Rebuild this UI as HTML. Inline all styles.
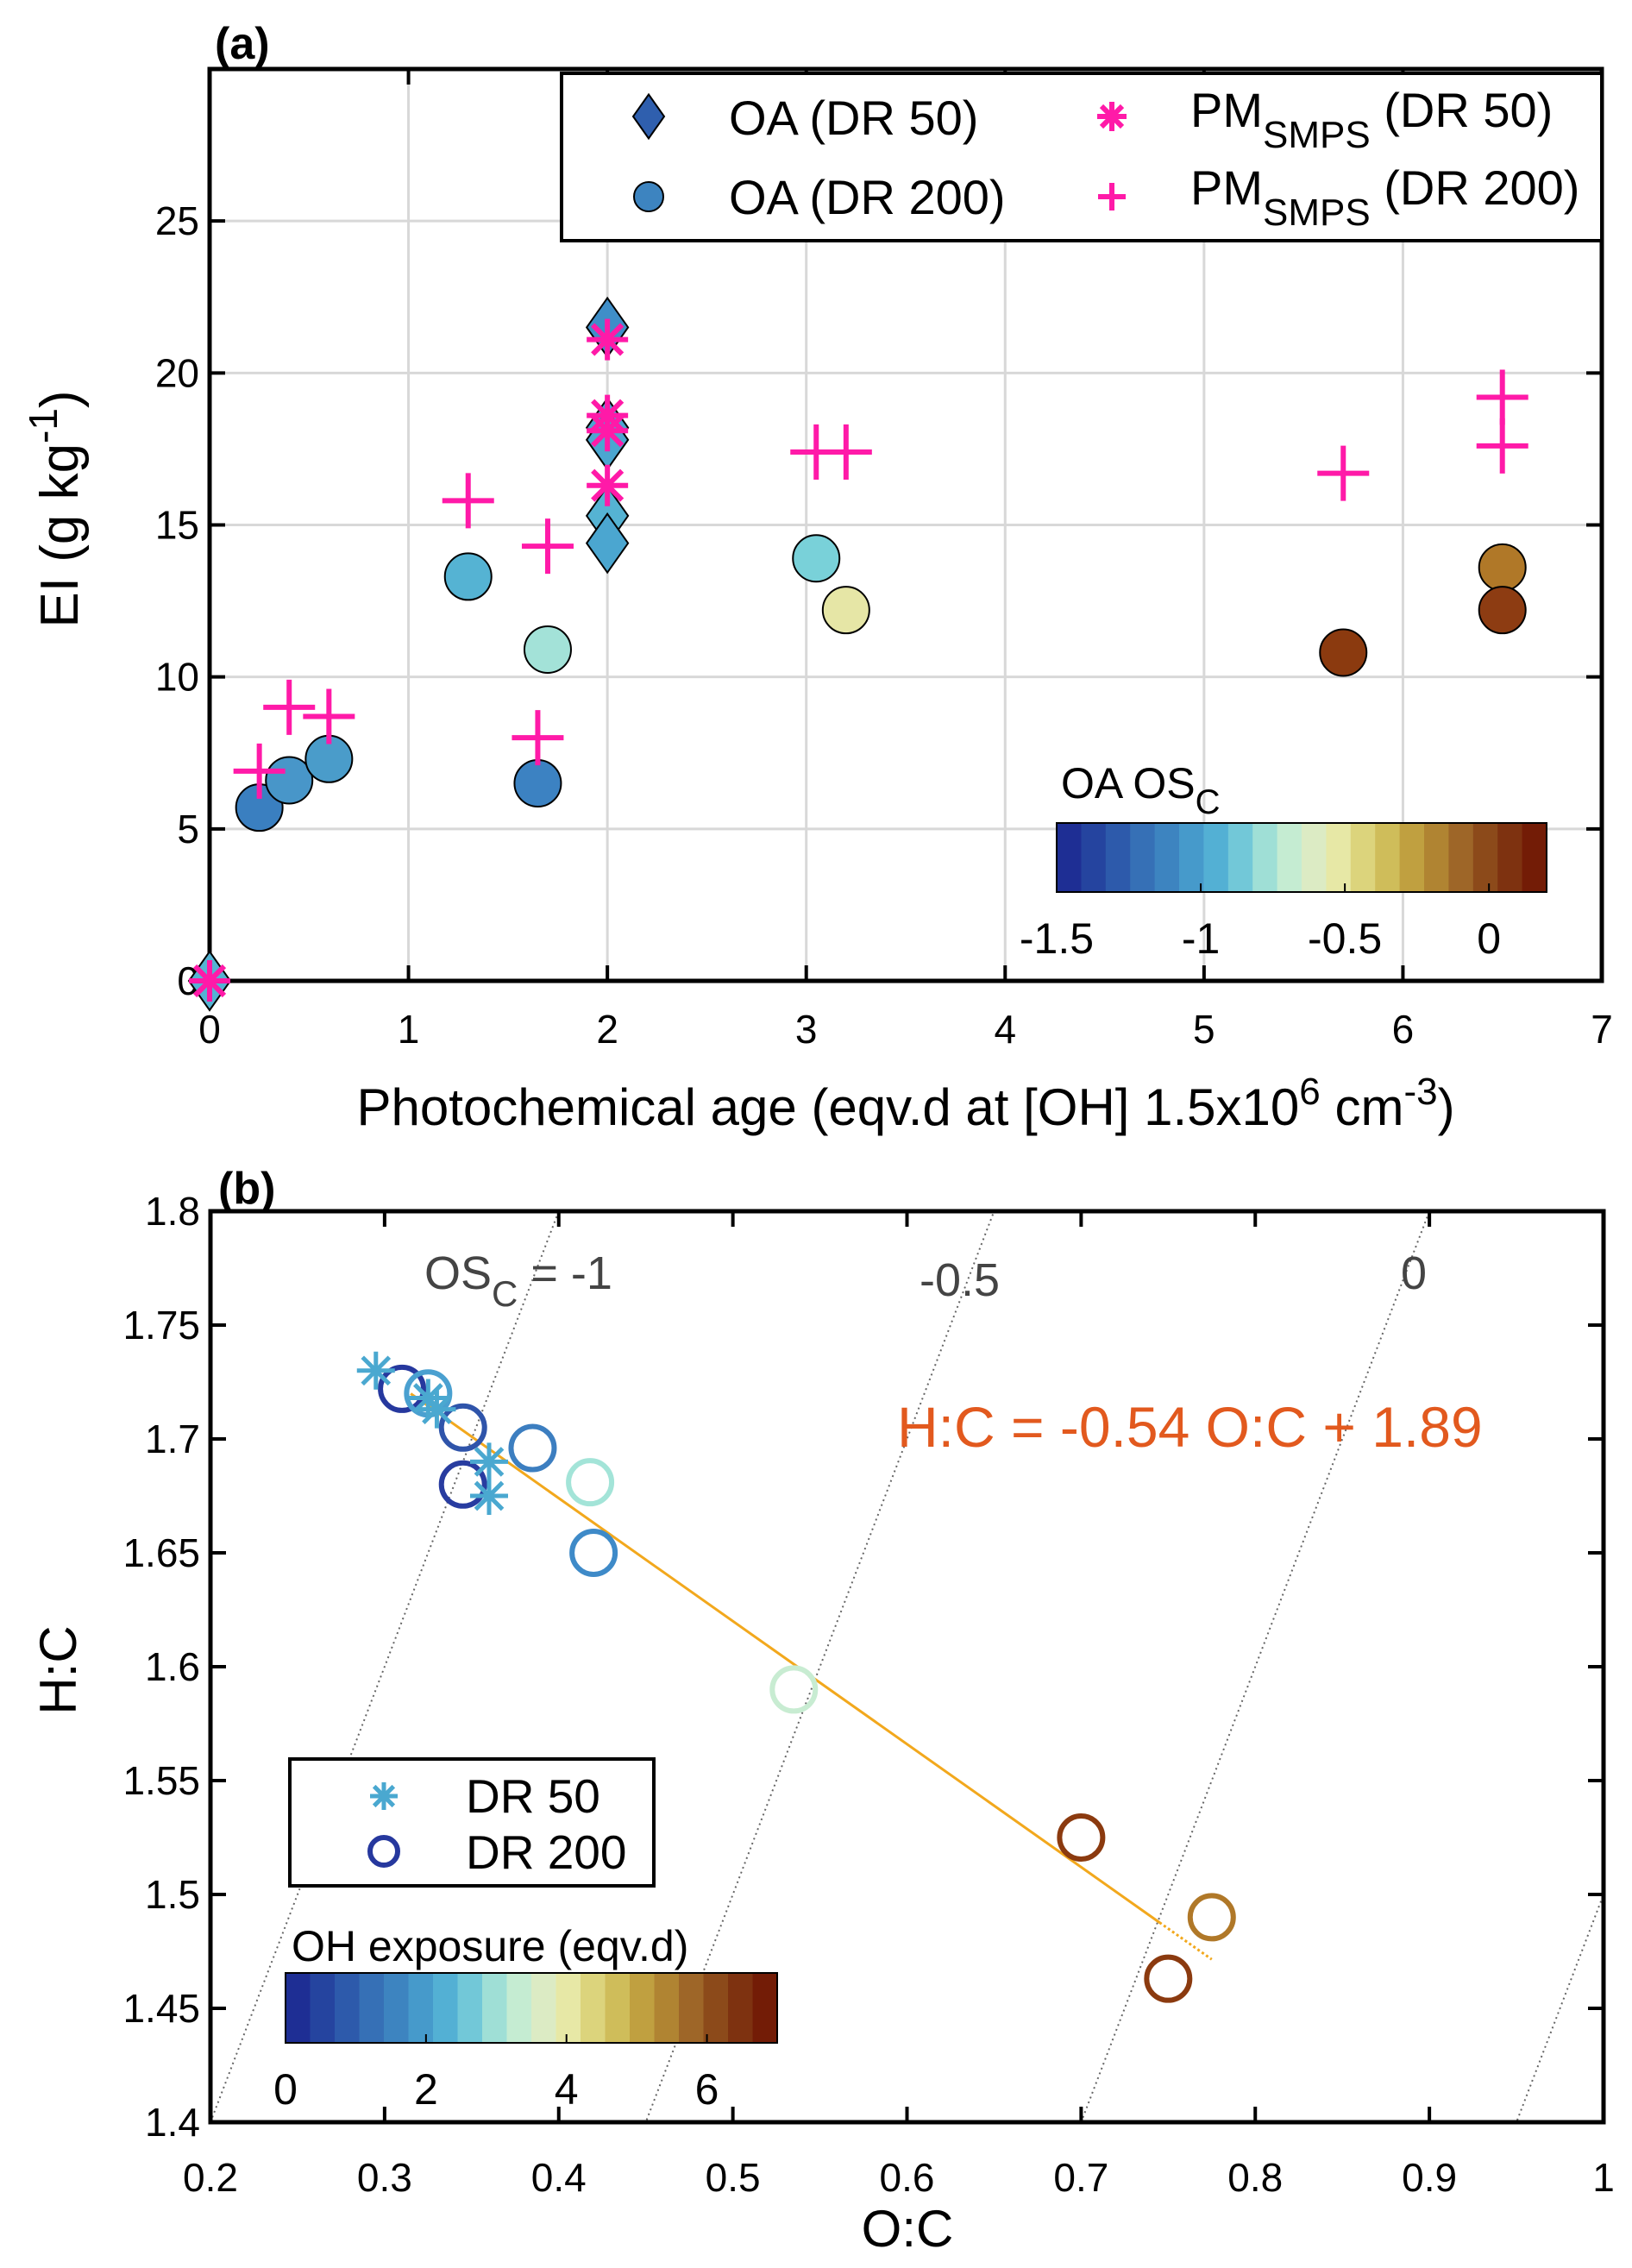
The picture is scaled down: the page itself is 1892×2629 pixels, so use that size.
<!DOCTYPE html>
<html><head><meta charset="utf-8"><style>
html,body{margin:0;padding:0;background:#fff;overflow:hidden;width:1892px;height:2629px}
svg{display:block;font-family:"Liberation Sans",Arial,sans-serif}
</style></head><body>
<svg id="fig" width="1892" height="2629" viewBox="0 0 1892 2629" xmlns="http://www.w3.org/2000/svg"></svg>
<script>
// ---- Panel (a) data ----
const oa200X = [0.25,0.4,0.6,1.3,1.65,1.7,3.05,3.2,5.7,6.5,6.5];
const oa200Y = [5.7,6.6,7.3,13.3,6.5,10.9,13.9,12.2,10.8,13.6,12.2];
const oa200C = ['#3a7fc0','#4896c9','#4a9cca','#55b3d3','#3c82c2','#a3e2d8','#79d1d9','#e6e6a6','#8b3a0f','#b07828','#8d3c12'];
const oa50X = [0,2,2,2,2,2];
const oa50Y = [0,21.5,18.2,17.8,15.3,14.4];
const oa50C = ['#55b3d3','#3f8ec8','#4ba6d0','#4ba6d0','#55b3d3','#4ba6d0'];
const pm50X = [0,2,2,2,2];
const pm50Y = [0,21.1,18.6,18.1,16.3];
const pm200X = [0.25,0.4,0.6,1.3,1.65,1.7,3.05,3.2,5.7,6.5,6.5];
const pm200Y = [6.9,9.0,8.7,15.8,8.0,14.3,17.4,17.4,16.7,19.2,17.6];
const aXTicks = [0,1,2,3,4,5,6,7];
const aYTicks = [0,5,10,15,20,25];
const osTicks = [-1.5,-1,-0.5,0];
// ---- Panel (b) data ----
const b200X = [0.31,0.325,0.345,0.385,0.345,0.418,0.42,0.535,0.70,0.775,0.75];
const b200Y = [1.722,1.720,1.705,1.696,1.680,1.681,1.650,1.590,1.525,1.490,1.463];
const b200C = ['#26389e','#4aa0d0','#2f54aa','#3c7ec0','#283ca0','#a3e4d8','#3e8ac8','#c8ecd2','#8b3a0f','#b07828','#8b3a0f'];
const b50X = [0.295,0.33,0.36,0.36,0.325];
const b50Y = [1.730,1.713,1.690,1.675,1.718];
const bXTicks = [0.2,0.3,0.4,0.5,0.6,0.7,0.8,0.9,1];
const bYTicks = [1.4,1.45,1.5,1.55,1.6,1.65,1.7,1.75,1.8];
const osLines = [-1,-0.5,0,0.5];
const fitSlope = -0.54, fitIntercept = 1.89;
const ohTicks = [0,2,4,6];
const cmap = ['#1e2e94','#25449f','#2d5aab','#3670b6','#3d84c0','#469acb','#53b0d4','#72c8d8','#9fdfd6','#c5ecd2','#dcebc4','#e7e8a6','#dcd47c','#cfbd5a','#c0a040','#b08432','#9e6628','#8c4a1a','#7e3210','#731c06'];

const svg = document.getElementById('fig');
const NS = 'http://www.w3.org/2000/svg';
function mk(tag, attrs, parent){const e=document.createElementNS(NS,tag);for(const k in attrs)e.setAttribute(k,attrs[k]);(parent||svg).appendChild(e);return e;}
function txt(s, attrs, parent){const e=mk('text',attrs,parent);e.textContent=s;return e;}

// ===== Panel A =====
const A={l:243,r:1857,t:80,b:1137,x0:0,x1:7,y0:0,y1:30};
const ax=v=>A.l+(v-A.x0)/(A.x1-A.x0)*(A.r-A.l);
const ay=v=>A.b-(v-A.y0)/(A.y1-A.y0)*(A.b-A.t);
const gA=mk('g',{});


const gridA=mk('g',{},gA);


aXTicks.forEach(v=>{if(v>0&&v<7)mk('line',{x1:ax(v),x2:ax(v),y1:A.t,y2:A.b,stroke:'#d8d8d8','stroke-width':3},gridA);});
aYTicks.forEach(v=>{if(v>0)mk('line',{x1:A.l,x2:A.r,y1:ay(v),y2:ay(v),stroke:'#d8d8d8','stroke-width':3},gridA);});
aXTicks.forEach(v=>{mk('line',{x1:ax(v),x2:ax(v),y1:A.b,y2:A.b-18,stroke:'#000','stroke-width':4},gA);mk('line',{x1:ax(v),x2:ax(v),y1:A.t,y2:A.t+18,stroke:'#000','stroke-width':4},gA);
 const t=txt(String(v),{x:ax(v),y:A.b+72,'font-size':46,'text-anchor':'middle'},gA);
 });
aYTicks.forEach(v=>{mk('line',{x1:A.l,x2:A.l+18,y1:ay(v),y2:ay(v),stroke:'#000','stroke-width':4},gA);mk('line',{x1:A.r,x2:A.r-18,y1:ay(v),y2:ay(v),stroke:'#000','stroke-width':4},gA);
 const t=txt(String(v),{x:A.l-12,y:ay(v)+16,'font-size':46,'text-anchor':'end'},gA);
 });
const frameA=mk('rect',{x:A.l,y:A.t,width:A.r-A.l,height:A.b-A.t,fill:'none',stroke:'#000','stroke-width':5},gA);


function diamond(cx,cy,fill,p,name,s){s=s||1;const e=mk('polygon',{points:`${cx},${cy-34*s} ${cx+24*s},${cy} ${cx},${cy+34*s} ${cx-24*s},${cy}`,fill:fill,stroke:'#000','stroke-width':2},p);return e;}
function star(cx,cy,r,col,w,p,name){const g=mk('g',{stroke:col,'stroke-width':w,'stroke-linecap':'butt'},p);
 for(let i=0;i<4;i++){const a=i*Math.PI/4;mk('line',{x1:cx-r*Math.cos(a),y1:cy-r*Math.sin(a),x2:cx+r*Math.cos(a),y2:cy+r*Math.sin(a)},g);}return g;}
function plus(cx,cy,p,name){const g=mk('g',{stroke:'#ff1aa8','stroke-width':6},p);
 mk('line',{x1:cx-30,x2:cx+30,y1:cy,y2:cy},g);mk('line',{x1:cx,x2:cx,y1:cy-32,y2:cy+32},g);return g;}

oa50X.forEach((x,i)=>diamond(ax(x),ay(oa50Y[i]),oa50C[i],gA,'oa-dr50-point'));
oa200X.forEach((x,i)=>{const c=mk('circle',{cx:ax(x),cy:ay(oa200Y[i]),r:27,fill:oa200C[i],stroke:'#000','stroke-width':2},gA);});
pm50X.forEach((x,i)=>star(ax(x),ay(pm50Y[i]),24,'#ff1aa8',6,gA,'pm-dr50-point'));
pm200X.forEach((x,i)=>plus(ax(x),ay(pm200Y[i]),gA,'pm-dr200-point'));

// legend a
const legA=mk('g',{},gA);
mk('rect',{x:651,y:85,width:1206,height:194,fill:'#fff',stroke:'#000','stroke-width':4},legA);
diamond(752,135,'#2f5fae',legA,'legend-oa-dr50-marker',0.75);
const lc=mk('circle',{cx:752,cy:228,r:17,fill:'#3d84c0',stroke:'#000','stroke-width':2},legA);
star(1289,135,17,'#ff1aa8',6,legA,'legend-pm-dr50-marker');
const lp=mk('g',{stroke:'#ff1aa8','stroke-width':6},legA);mk('line',{x1:1273,x2:1305,y1:228,y2:228},lp);mk('line',{x1:1289,x2:1289,y1:212,y2:244},lp);
txt('OA (DR 50)',{x:845,y:156,'font-size':56},legA);
txt('OA (DR 200)',{x:845,y:248,'font-size':56},legA);
const t1=txt('',{x:1380,y:147,'font-size':56},legA);t1.innerHTML='PM<tspan font-size="44" dy="24">SMPS</tspan><tspan dy="-24"> (DR 50)</tspan>';
const t2=txt('',{x:1380,y:237,'font-size':56},legA);t2.innerHTML='PM<tspan font-size="44" dy="24">SMPS</tspan><tspan dy="-24"> (DR 200)</tspan>';

// colorbar a
const cbA=mk('g',{},gA);
const cbAx0=1225,cbAx1=1793,cbAy=954,cbAh=80,osMin=-1.5,osMax=0.2;
cmap.forEach((c,i)=>mk('rect',{x:cbAx0+i*(cbAx1-cbAx0)/20,y:cbAy,width:(cbAx1-cbAx0)/20+0.6,height:cbAh,fill:c},cbA));
mk('rect',{x:cbAx0,y:cbAy,width:cbAx1-cbAx0,height:cbAh,fill:'none',stroke:'#000','stroke-width':2},cbA);
osTicks.forEach(v=>{const x=cbAx0+(v-osMin)/(osMax-osMin)*(cbAx1-cbAx0);mk('line',{x1:x,x2:x,y1:cbAy+cbAh,y2:cbAy+cbAh-10,stroke:'#000','stroke-width':2},cbA);txt(String(v),{x:x,y:1105,'font-size':50,'text-anchor':'middle'},cbA);});
const cbt=txt('',{x:1230,y:925,'font-size':50},cbA);cbt.innerHTML='OA OS<tspan font-size="40" dy="18">C</tspan>';

txt('(a)',{x:249,y:68,'font-size':52,'font-weight':'bold'},gA);
const yla=txt('',{x:0,y:0,'font-size':62,'text-anchor':'middle',transform:'translate(90,590) rotate(-90)'},gA);
yla.innerHTML='EI (g kg<tspan font-size="46" dy="-24">-1</tspan><tspan dy="24">)</tspan>';

const xla=txt('',{x:1050,y:1304,'font-size':60,'text-anchor':'middle'},gA);
xla.innerHTML='Photochemical age (eqv.d at [OH] 1.5x10<tspan font-size="44" dy="-24">6</tspan><tspan dy="24"> cm</tspan><tspan font-size="44" dy="-24">-3</tspan><tspan dy="24">)</tspan>';


// ===== Panel B =====
const B={l:244,r:1859,t:1404,b:2460,x0:0.2,x1:1,y0:1.4,y1:1.8};
const bx=v=>B.l+(v-B.x0)/(B.x1-B.x0)*(B.r-B.l);
const by=v=>B.b-(v-B.y0)/(B.y1-B.y0)*(B.b-B.t);
const gB=mk('g',{});
const clip=mk('clipPath',{id:'cb'},gB);mk('rect',{x:B.l,y:B.t,width:B.r-B.l,height:B.b-B.t},clip);
osLines.forEach(os=>{const l=mk('line',{x1:bx(0.2),y1:by(0.4-os),x2:bx(1),y2:by(2-os),stroke:'#666','stroke-width':2,'stroke-dasharray':'2 4','clip-path':'url(#cb)'},gB);});
txt('',{x:492,y:1494,'font-size':54,fill:'#444'},gB).innerHTML='OS<tspan font-size="42" dy="20">C</tspan><tspan dy="-20"> = -1</tspan>';
txt('-0.5',{x:1066,y:1502,'font-size':54,fill:'#444'},gB);
txt('0',{x:1624,y:1494,'font-size':54,fill:'#444'},gB);
bXTicks.forEach(v=>{mk('line',{x1:bx(v),x2:bx(v),y1:B.b,y2:B.b-18,stroke:'#000','stroke-width':4},gB);mk('line',{x1:bx(v),x2:bx(v),y1:B.t,y2:B.t+18,stroke:'#000','stroke-width':4},gB);
 const t=txt(String(v),{x:bx(v),y:2540,'font-size':46,'text-anchor':'middle'},gB);});
bYTicks.forEach(v=>{mk('line',{x1:B.l,x2:B.l+18,y1:by(v),y2:by(v),stroke:'#000','stroke-width':4},gB);mk('line',{x1:B.r,x2:B.r-18,y1:by(v),y2:by(v),stroke:'#000','stroke-width':4},gB);
 const t=txt(String(v),{x:B.l-12,y:by(v)+16,'font-size':46,'text-anchor':'end'},gB);});
const fl=mk('line',{x1:bx(0.315),y1:by(fitIntercept+fitSlope*0.315),x2:bx(0.745),y2:by(fitIntercept+fitSlope*0.745),stroke:'#f2a81d','stroke-width':3},gB);

mk('line',{x1:bx(0.745),y1:by(fitIntercept+fitSlope*0.745),x2:bx(0.775),y2:by(fitIntercept+fitSlope*0.775),stroke:'#f2a81d','stroke-width':3,'stroke-dasharray':'3 3'},gB);
b200X.forEach((x,i)=>{const c=mk('circle',{cx:bx(x),cy:by(b200Y[i]),r:25,fill:'none',stroke:b200C[i],'stroke-width':6},gB);});
b50X.forEach((x,i)=>star(bx(x),by(b50Y[i]),22,'#4aa8d0',5,gB,'dr50-point'));
const eq=txt('H:C =  -0.54 O:C + 1.89',{x:1040,y:1677,'font-size':66,fill:'#e2591e'},gB);
mk('rect',{x:B.l,y:B.t,width:B.r-B.l,height:B.b-B.t,fill:'none',stroke:'#000','stroke-width':5},gB);
// legend b
const legB=mk('g',{},gB);
mk('rect',{x:336,y:2039,width:422,height:147,fill:'#fff',stroke:'#000','stroke-width':4},legB);
star(445,2082,16,'#4aa8d0',5,legB,'legend-dr50-marker');
mk('circle',{cx:445,cy:2146,r:16,fill:'none',stroke:'#26389e','stroke-width':6},legB);
txt('DR 50',{x:540,y:2101,'font-size':55},legB);
txt('DR 200',{x:540,y:2166,'font-size':55},legB);
// colorbar b
const cbB=mk('g',{},gB);
const cbBx0=331,cbBx1=901,cbBy=2287,cbBh=81,ohMin=0,ohMax=7;
cmap.forEach((c,i)=>mk('rect',{x:cbBx0+i*(cbBx1-cbBx0)/20,y:cbBy,width:(cbBx1-cbBx0)/20+0.6,height:cbBh,fill:c},cbB));
mk('rect',{x:cbBx0,y:cbBy,width:cbBx1-cbBx0,height:cbBh,fill:'none',stroke:'#000','stroke-width':2},cbB);
ohTicks.forEach(v=>{const x=cbBx0+(v-ohMin)/(ohMax-ohMin)*(cbBx1-cbBx0);mk('line',{x1:x,x2:x,y1:cbBy+cbBh,y2:cbBy+cbBh-10,stroke:'#000','stroke-width':2},cbB);txt(String(v),{x:x,y:2439,'font-size':50,'text-anchor':'middle'},cbB);});
txt('OH exposure (eqv.d)',{x:338,y:2273,'font-size':50},cbB);
txt('(b)',{x:253,y:1395,'font-size':52,'font-weight':'bold'},gB);
const ylb=txt('H:C',{x:0,y:0,'font-size':60,'text-anchor':'middle',transform:'translate(88,1936) rotate(-90)'},gB);
const xlb=txt('O:C',{x:1052,y:2604,'font-size':60,'text-anchor':'middle'},gB);
</script>
</body></html>
